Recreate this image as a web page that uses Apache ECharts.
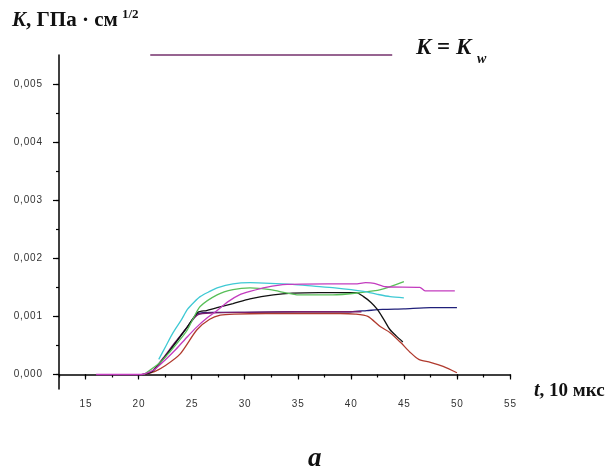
<!DOCTYPE html>
<html><head><meta charset="utf-8">
<script src="https://cdn.jsdelivr.net/npm/echarts@6/dist/echarts.min.js"></script>
<style>html,body{margin:0;padding:0;background:#fff}#c{width:614px;height:474px}</style>
</head><body><div id="c"></div>
<script>
// ---- axis ticks / labels ----
const xMajorTicks = [15, 20, 25, 30, 35, 40, 45, 50, 55];
const xMinorTicks = [12.5, 15, 17.5, 20, 22.5, 25, 27.5, 30, 32.5, 35, 37.5, 40, 42.5, 45, 47.5, 50, 52.5, 55];
const yMajorTicks = [0, 0.001, 0.002, 0.003, 0.004, 0.005];
const yMinorTicks = [0, 0.0005, 0.001, 0.0015, 0.002, 0.0025, 0.003, 0.0035, 0.004, 0.0045, 0.005];

// ---- data series (t in 10 µs, K in GPa·cm^1/2) ----
const magentaX = [16, 20.3, 21, 21.6, 22.5, 23.5, 24.6, 25.5, 26.5, 27.4, 28.4, 29.5, 30.5, 32, 34, 37.8, 40.4, 41.4, 42.2, 43.3, 46.5, 47, 49.8];
const magentaY = [0, 0, 0.00004, 0.0001, 0.00025, 0.00043, 0.00065, 0.00082, 0.00098, 0.0011, 0.00125, 0.00137, 0.00143, 0.0015, 0.00155, 0.00156, 0.00156, 0.00158, 0.00157, 0.00151, 0.0015, 0.00144, 0.00144];

const cyanX = [21.9, 22.6, 23.25, 24, 24.6, 25.2, 25.8, 26.6, 27.4, 28.9, 30.5, 32.4, 34.5, 36.5, 38.5, 41.2, 42.5, 43.7, 45];
const cyanY = [0.00026, 0.0005, 0.00072, 0.00093, 0.00112, 0.00124, 0.00134, 0.00142, 0.00149, 0.00156, 0.00158, 0.00157, 0.00155, 0.00152, 0.00149, 0.00143, 0.00138, 0.00134, 0.00132];

const greenX = [20.5, 22, 23, 24, 24.6, 25.2, 25.8, 27.4, 28.9, 30.5, 32.4, 35.2, 38.3, 40.9, 42.8, 45];
const greenY = [0, 0.0002, 0.0004, 0.00062, 0.00077, 0.00098, 0.00117, 0.00137, 0.00146, 0.00149, 0.00146, 0.00137, 0.00137, 0.00141, 0.00146, 0.0016];

const blackX = [20.5, 21.3, 22.3, 23.3, 24.6, 25.6, 26.4, 27.4, 28.9, 30.5, 32.7, 34.5, 37, 40.5, 41.2, 41.9, 42.5, 43.1, 43.7, 44.3, 44.9];
const blackY = [0, 0.00005, 0.00026, 0.0005, 0.00082, 0.00107, 0.0011, 0.00115, 0.00122, 0.0013, 0.00137, 0.0014, 0.00141, 0.00141, 0.00134, 0.00124, 0.00112, 0.00095, 0.00077, 0.00066, 0.00056];

const navyX = [20.5, 21.3, 22.3, 23.3, 24.6, 25.6, 27, 30, 35, 40, 41.5, 43, 45, 47.5, 50];
const navyY = [0, 0.00005, 0.00026, 0.0005, 0.00082, 0.00105, 0.00107, 0.00107, 0.00108, 0.00108, 0.0011, 0.00112, 0.00113, 0.00115, 0.00115];

const purpleX = [20.3, 21.3, 22.3, 23.3, 24.6, 25.6, 27, 30, 35, 40, 41];
const purpleY = [0, 0.00006, 0.00028, 0.00052, 0.00082, 0.00103, 0.00106, 0.00107, 0.00108, 0.00108, 0.00108];

const redX = [20.5, 21.5, 22.5, 23.9, 25.5, 26.7, 27.7, 29, 32, 36, 39, 40.4, 41.6, 42.8, 43.7, 44.7, 45.6, 46.4, 47.5, 48.7, 50];
const redY = [0, 0.00005, 0.00015, 0.00035, 0.00077, 0.00095, 0.00102, 0.00104, 0.00105, 0.00105, 0.00105, 0.00104, 0.001, 0.00082, 0.00072, 0.00055, 0.00038, 0.00026, 0.00021, 0.00014, 0.00003];

const kwX = [21.1, 43.9];
const kwY = [0.0055, 0.0055];

const zip = (xs, ys) => xs.map((x, i) => [x, ys[i]]);
const spaced = s => s.split('').join('\u200a');

const SERIF = '"Liberation Serif", "Times New Roman", serif';
const SANS = '"Liberation Sans", Arial, sans-serif';

function line(name, xs, ys, color, extra) {
  return Object.assign({
    name, type: 'line', data: zip(xs, ys), showSymbol: false, smooth: 0.25,
    lineStyle: { color, width: 1.3 }, itemStyle: { color }, animation: false,
    xAxisIndex: 0, yAxisIndex: 0
  }, extra || {});
}

const chart = echarts.init(document.getElementById('c'), null, { renderer: 'canvas' });
chart.setOption({
  backgroundColor: '#ffffff',
  animation: false,
  grid: { left: 59, top: 55, width: 451, height: 334, containLabel: false },
  xAxis: [
    {
      type: 'value', min: 12.5, max: 55, position: 'bottom',
      axisLine: { show: true, lineStyle: { color: '#000', width: 1.5 } },
      axisTick: { show: true, length: 3, customValues: xMinorTicks, lineStyle: { color: '#000', width: 1.2 } },
      axisLabel: { show: false }, splitLine: { show: false }
    },
    {
      type: 'value', min: 12.5, max: 55, position: 'bottom',
      axisLine: { show: false },
      axisTick: { show: true, length: 5, customValues: xMajorTicks, lineStyle: { color: '#000', width: 1.2 } },
      axisLabel: { show: true, customValues: xMajorTicks, margin: 10, fontSize: 10, color: '#333', fontFamily: SANS,
        formatter: v => spaced(String(v)) },
      splitLine: { show: false }
    }
  ],
  yAxis: [
    {
      type: 'value', min: -0.00025, max: 0.0055, position: 'left',
      axisLine: { show: true, lineStyle: { color: '#000', width: 1.5 } },
      axisTick: { show: true, length: 3, customValues: yMinorTicks, lineStyle: { color: '#000', width: 1.2 } },
      axisLabel: { show: false }, splitLine: { show: false }
    },
    {
      type: 'value', min: -0.00025, max: 0.0055, position: 'left',
      axisLine: { show: false },
      axisTick: { show: true, length: 6, customValues: yMajorTicks, lineStyle: { color: '#000', width: 1.2 } },
      axisLabel: { show: true, customValues: yMajorTicks, margin: 17, fontSize: 10, color: '#333', fontFamily: SANS,
        formatter: v => spaced(v.toFixed(3).replace('.', ',')) },
      splitLine: { show: false }
    }
  ],
  series: [
    line('Kw', kwX, kwY, '#74306c', { smooth: false, clip: false }),
    line('navy', navyX, navyY, '#20207a'),
    line('purple', purpleX, purpleY, '#7a1f6e'),
    line('red', redX, redY, '#b03a2e'),
    line('black', blackX, blackY, '#111111'),
    line('green', greenX, greenY, '#58bf58'),
    line('cyan', cyanX, cyanY, '#3fc9d4'),
    line('magenta', magentaX, magentaY, '#c33cbf')
  ],
  graphic: [
    { type: 'text', left: 12, top: 10, style: {
      text: '{i|K}{n|, ГПа · см}',
      rich: {
        i: { fontFamily: SERIF, fontSize: 21, fontWeight: 'bold', fontStyle: 'italic', fill: '#111' },
        n: { fontFamily: SERIF, fontSize: 21, fontWeight: 'bold', fill: '#111' }
      } } },
    { type: 'text', left: 122, top: 8, style: { text: '1/2', font: 'bold 13px ' + SERIF, fill: '#111' } },
    { type: 'text', left: 416, top: 37, style: {
      text: '{i|K}{n| = }{i|K}',
      rich: {
        i: { fontFamily: SERIF, fontSize: 23, fontWeight: 'bold', fontStyle: 'italic', fill: '#111' },
        n: { fontFamily: SERIF, fontSize: 23, fontWeight: 'bold', fill: '#111' }
      } } },
    { type: 'text', left: 477, top: 52, style: { text: 'w', font: 'italic bold 14px ' + SERIF, fill: '#111' } },
    { type: 'text', left: 534, top: 381, style: {
      text: '{i|t}{n|, 10 мкс}',
      rich: {
        i: { fontFamily: SERIF, fontSize: 20, fontWeight: 'bold', fontStyle: 'italic', fill: '#111' },
        n: { fontFamily: SERIF, fontSize: 19, fontWeight: 'bold', fill: '#111' }
      } } },
    { type: 'text', left: 308, top: 446, style: { text: 'a', font: 'italic bold 27px ' + SERIF, fill: '#111' } }
  ]
});
</script>
</body></html>
